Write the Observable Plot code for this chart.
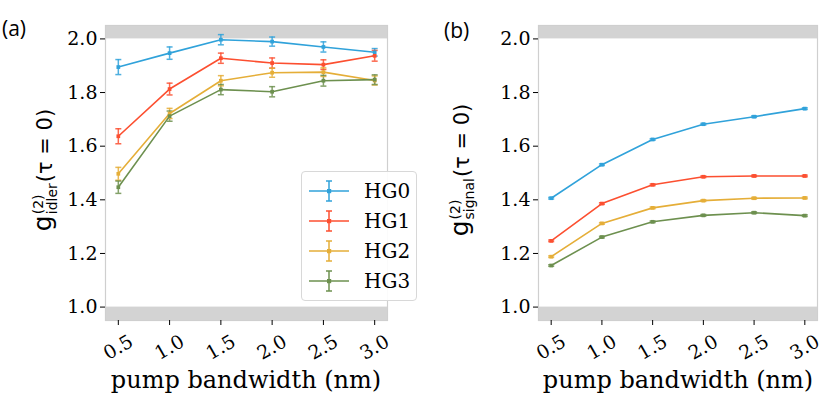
<!DOCTYPE html>
<html>
<head>
<meta charset="utf-8">
<script src="https://cdn.jsdelivr.net/npm/d3@7"></script>
<script src="https://cdn.jsdelivr.net/npm/@observablehq/plot@0.6"></script>
<style>
  html, body { margin: 0; padding: 0; background: #fff; }
  #wrap { position: relative; width: 830px; height: 413px; overflow: hidden; }
  .panel { position: absolute; top: 0; }
  .tag { position: absolute; font-family: "Open Sans", "DejaVu Sans", sans-serif; font-size: 21px; color: #000; }
  .ylab { position: absolute; font-family: "DejaVu Sans", sans-serif; font-size: 21px; white-space: nowrap;
          transform: translate(-50%, -50%) rotate(-90deg); display: flex; align-items: center; }
  .ylab .stack { display: inline-flex; flex-direction: column; align-items: flex-start; font-size: 14px; line-height: 14px; margin: 0 1px; }
  .ylab .g { font-size: 25px; position: relative; top: -2px; }
  .legend { position: absolute; border: 1px solid #d8d8d8; border-radius: 4px; background: rgba(255,255,255,0.9);
            padding: 4px 6px 4px 6px; }
  .legend .row { display: flex; align-items: center; height: 30px; }
  .legend .row span { font-family: "DejaVu Serif", serif; font-size: 20px; }
  .legend svg { margin-right: 14px; }
  .xlab { position: absolute; top: 366px; transform: translateX(-50%); font-family: "DejaVu Serif", serif; font-size: 24px; white-space: nowrap; }
</style>
</head>
<body>
<div id="wrap"></div>
<script>
const bandwidth = [0.5, 1.0, 1.5, 2.0, 2.5, 3.0];
const modes = ["HG0", "HG1", "HG2", "HG3"];
const colors = ["#30a2da", "#fc4f30", "#e5ae38", "#6d904f"];

// (a) idler g2 and error bars
const idlerHG0 = [1.895, 1.947, 1.997, 1.990, 1.970, 1.950];
const idlerHG1 = [1.637, 1.813, 1.928, 1.910, 1.904, 1.937];
const idlerHG2 = [1.497, 1.722, 1.844, 1.874, 1.876, 1.845];
const idlerHG3 = [1.447, 1.712, 1.811, 1.803, 1.844, 1.848];
const idlerErrHG0 = [0.028, 0.023, 0.019, 0.017, 0.019, 0.014];
const idlerErrHG1 = [0.028, 0.022, 0.019, 0.019, 0.018, 0.020];
const idlerErrHG2 = [0.024, 0.019, 0.019, 0.017, 0.016, 0.017];
const idlerErrHG3 = [0.023, 0.019, 0.019, 0.019, 0.020, 0.018];

// (b) signal g2 and error bars
const signalHG0 = [1.406, 1.531, 1.625, 1.682, 1.710, 1.740];
const signalHG1 = [1.247, 1.386, 1.456, 1.486, 1.489, 1.489];
const signalHG2 = [1.188, 1.312, 1.370, 1.397, 1.406, 1.407];
const signalHG3 = [1.155, 1.261, 1.318, 1.342, 1.352, 1.341];
const signalErr = [0.003, 0.003, 0.003, 0.003, 0.003, 0.003];

const yTicks = [1.0, 1.2, 1.4, 1.6, 1.8, 2.0];
const xTicks = [0.5, 1.0, 1.5, 2.0, 2.5, 3.0];
const shadeBands = [{y1: 2.0, y2: 2.05}, {y1: 0.95, y2: 1.0}];

function rows(series, errs) {
  const out = [];
  series.forEach((vals, k) => vals.forEach((v, i) => out.push({x: bandwidth[i], y: v, e: errs[k][i], mode: modes[k]})));
  return out;
}

const capSymbol = {draw(ctx, size) { const r = Math.sqrt(size / Math.PI); ctx.moveTo(-r, 0); ctx.lineTo(r, 0); }};

function panel(data, left, width, marginLeft, marginRight) {
  const marks = [
    Plot.rect(shadeBands, {y1: "y1", y2: "y2", fill: "#d3d3d3"}),
    Plot.frame({stroke: "#cfcfcf", strokeWidth: 1.2}),
    Plot.axisY({ticks: yTicks, tickFormat: d3.format(".1f"), tickSize: 5, tickPadding: 3,
                fontSize: 19, label: null, stroke: "#000"}),
    Plot.axisX({ticks: xTicks, tickFormat: d3.format(".1f"), tickSize: 5, tickPadding: 22,
                tickRotate: -30, textAnchor: "middle", fontSize: 19,
                label: null, stroke: "#000"}),
    Plot.ruleX(data, {x: "x", y1: d => d.y - d.e, y2: d => d.y + d.e, stroke: "mode", strokeWidth: 1.5, strokeOpacity: 0.85}),
    Plot.dot(data, {x: "x", y: d => d.y - d.e, symbol: capSymbol, r: 3, stroke: "mode", strokeWidth: 1.5, strokeOpacity: 0.85}),
    Plot.dot(data, {x: "x", y: d => d.y + d.e, symbol: capSymbol, r: 3, stroke: "mode", strokeWidth: 1.5, strokeOpacity: 0.85}),
    Plot.line(data, {x: "x", y: "y", z: "mode", stroke: "mode", strokeWidth: 1.6}),
    Plot.dot(data, {x: "x", y: "y", symbol: "square", r: 2.1, fill: "mode", stroke: null})
  ];
  const chart = Plot.plot({
    width, height: 413,
    marginLeft, marginRight, marginTop: 25, marginBottom: 93,
    style: {background: "transparent", overflow: "visible", fontFamily: "'DejaVu Serif', serif", fontSize: "19px", color: "#000"},
    x: {domain: [0.375, 3.125]},
    y: {domain: [0.95, 2.05]},
    color: {domain: modes, range: colors},
    marks
  });
  chart.classList.add("panel");
  chart.style.left = left + "px";
  return chart;
}

const wrap = document.getElementById("wrap");
const idlerData = rows([idlerHG0, idlerHG1, idlerHG2, idlerHG3], [idlerErrHG0, idlerErrHG1, idlerErrHG2, idlerErrHG3]);
const signalData = rows([signalHG0, signalHG1, signalHG2, signalHG3], [signalErr, signalErr, signalErr, signalErr]);
wrap.appendChild(panel(idlerData, 0, 415, 105, 28));
wrap.appendChild(panel(signalData, 415, 415, 123, 13));

// x axis labels
function xlabel(cx) {
  const d = document.createElement("div");
  d.className = "xlab";
  d.textContent = "pump bandwidth (nm)";
  d.style.left = cx + "px";
  wrap.appendChild(d);
}
xlabel(246); xlabel(678);

// y axis labels
function ylabel(cx, sub) {
  const d = document.createElement("div");
  d.className = "ylab";
  d.style.left = cx + "px"; d.style.top = "170px";
  d.innerHTML = `<span class="g">g</span><span class="stack"><span>(2)</span><span>${sub}</span></span><span>(τ = 0)</span>`;
  wrap.appendChild(d);
}
ylabel(44, "idler"); ylabel(461, "signal");

// panel tags
const ta = document.createElement("div"); ta.className = "tag"; ta.textContent = "(a)"; ta.style.left = "2px"; ta.style.top = "14px"; wrap.appendChild(ta);
const tb = document.createElement("div"); tb.className = "tag"; tb.textContent = "(b)"; tb.style.left = "444px"; tb.style.top = "16px"; wrap.appendChild(tb);

// legend
const lg = document.createElement("div");
lg.className = "legend";
lg.style.left = "301px"; lg.style.top = "171px";
modes.forEach((m, i) => {
  const c = colors[i];
  const row = document.createElement("div");
  row.className = "row";
  row.innerHTML = `<svg width="42" height="26"><line x1="1" x2="41" y1="13" y2="13" stroke="${c}" stroke-width="1.6"/>
    <line x1="21" x2="21" y1="3" y2="23" stroke="${c}" stroke-width="1.5"/>
    <line x1="18" x2="24" y1="3" y2="3" stroke="${c}" stroke-width="1.5"/>
    <line x1="18" x2="24" y1="23" y2="23" stroke="${c}" stroke-width="1.5"/>
    <rect x="19" y="11" width="4.2" height="4.2" fill="${c}"/></svg><span>${m}</span>`;
  lg.appendChild(row);
});
wrap.appendChild(lg);
</script>
</body>
</html>
